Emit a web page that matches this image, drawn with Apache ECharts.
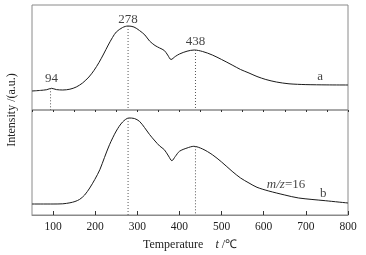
<!DOCTYPE html>
<html><head><meta charset="utf-8">
<script src="https://cdn.jsdelivr.net/npm/echarts@6/dist/echarts.min.js"></script>
<style>html,body{margin:0;padding:0;background:#fff}#c{width:366px;height:255px}</style>
</head><body><div id="c"></div>
<script>
// Temperature (°C) and intensity (a.u.) for trace a (top) and trace b (bottom, m/z=16)
const tempA = [50, 70, 85, 96, 108, 123, 140, 155, 170, 185, 197, 209, 220, 231, 241, 250, 265, 278, 292, 305, 318, 329, 342, 353, 364, 372, 380, 390, 400, 418, 435, 455, 478, 500, 525, 545, 565, 584, 605, 630, 660, 700, 750, 800];
const valA  = [19, 19.6, 20.3, 21.7, 20.4, 20, 20.8, 23, 27, 33, 39.5, 47.5, 56, 65, 72.5, 78, 82.5, 84, 83, 79.5, 75, 69, 64.5, 62, 59.5, 55, 50.5, 53.5, 56, 58.8, 60, 58.5, 55, 50.5, 45, 40.5, 37, 33.5, 30.5, 28, 26.2, 25.4, 25.1, 25];
const tempB = [50, 100, 123, 140, 152, 163, 175, 187, 199, 211, 222, 234, 250, 265, 280, 293, 305, 317, 329, 342, 353, 364, 374, 382, 390, 400, 418, 434, 455, 478, 500, 525, 545, 565, 584, 612, 650, 683, 746, 800];
const valB  = [11, 11, 11.2, 12.2, 13.5, 15.6, 20, 27, 35.5, 45.3, 57.5, 70.3, 84, 93, 97, 96.5, 93.7, 87.5, 80.5, 74, 69, 65.3, 59, 54.3, 58.5, 63.7, 67, 68.7, 66, 60.3, 53, 43.7, 37, 32, 27.7, 24, 20, 17, 14.3, 12];
// Peak markers
const peaksA = [94, 278, 438];
const peakValA = [21.7, 84, 60];
const peaksB = [278, 438];
const peakValB = [97, 68.7];
// Text annotations: [temperature, intensity, text]
const labelsA = [[96, 31, '94'], [278, 90, '278'], [438, 68, '438'], [734, 33, 'a']];
const labelsB = [[653, 30, '{i|m/z}=16'], [741, 21, 'b']];
const xTicks = [100, 200, 300, 400, 500, 600, 700, 800];

const FONT = 'Liberation Serif';
const chart = echarts.init(document.getElementById('c'), null, {renderer: 'canvas'});

function curve(xs, ys, gi) {
  return {type: 'line', xAxisIndex: gi === 0 ? 0 : 1, yAxisIndex: gi, smooth: 0.3, symbol: 'none',
    data: xs.map((x, i) => [x, ys[i]]), lineStyle: {color: '#1a1a1a', width: 1}, silent: true};
}
function drops(ts, vs, gi) {
  return ts.map((t, i) => ({type: 'line', xAxisIndex: gi === 0 ? 0 : 1, yAxisIndex: gi, symbol: 'none',
    data: [[t, vs[i]], [t, 0]], lineStyle: {color: '#555', width: 1, type: [1, 2]}, silent: true}));
}
function texts(arr, gi) {
  return {type: 'scatter', xAxisIndex: gi === 0 ? 0 : 1, yAxisIndex: gi, symbolSize: 0, silent: true,
    data: arr.map(d => ({value: [d[0], d[1]], name: d[2]})),
    label: {show: true, position: 'inside', formatter: p => p.name, color: '#111', fontFamily: FONT, fontSize: 13,
      rich: {i: {fontStyle: 'italic', fontFamily: FONT, fontSize: 13, color: '#111'}}}};
}

const option = {
  animation: false,
  backgroundColor: '#fff',
  grid: [
    {left: 32, top: 5, width: 316, height: 105, show: true, borderColor: '#8a8a8a', borderWidth: 1},
    {left: 32, top: 110, width: 316, height: 105, show: true, borderColor: '#8a8a8a', borderWidth: 1}
  ],
  xAxis: [
    {gridIndex: 0, type: 'value', min: 50, max: 800, show: false},
    {gridIndex: 1, type: 'value', min: 50, max: 800, splitLine: {show: false},
      axisLine: {lineStyle: {color: '#8a8a8a'}},
      axisTick: {inside: true, length: 4, customValues: xTicks, lineStyle: {color: '#333'}},
      axisLabel: {customValues: xTicks, fontFamily: FONT, fontSize: 11.5, color: '#222', margin: 6},
      name: 'Temperature    {i|t} /℃', nameLocation: 'middle', nameGap: 24,
      nameTextStyle: {fontFamily: FONT, fontSize: 12, color: '#222',
        rich: {i: {fontStyle: 'italic', fontFamily: FONT, fontSize: 12, color: '#222'}}}},
    {gridIndex: 1, type: 'value', min: 50, max: 800, interval: 50, splitLine: {show: false},
      axisLine: {show: false}, axisLabel: {show: false},
      axisTick: {inside: true, length: 2, lineStyle: {color: '#333'}}}
  ],
  yAxis: [
    {gridIndex: 0, type: 'value', min: 0, max: 105, show: false},
    {gridIndex: 1, type: 'value', min: 0, max: 105, show: false}
  ],
  graphic: [{type: 'text', x: 12, y: 110, rotation: Math.PI / 2,
    style: {text: 'Intensity /(a.u.)', font: '12px "Liberation Serif"', fill: '#222', align: 'center', verticalAlign: 'middle'}}],
  series: [
    curve(tempA, valA, 0),
    curve(tempB, valB, 1),
    ...drops(peaksA, peakValA, 0),
    ...drops(peaksB, peakValB, 1),
    texts(labelsA, 0),
    texts(labelsB, 1)
  ]
};
chart.setOption(option);
</script></body></html>
